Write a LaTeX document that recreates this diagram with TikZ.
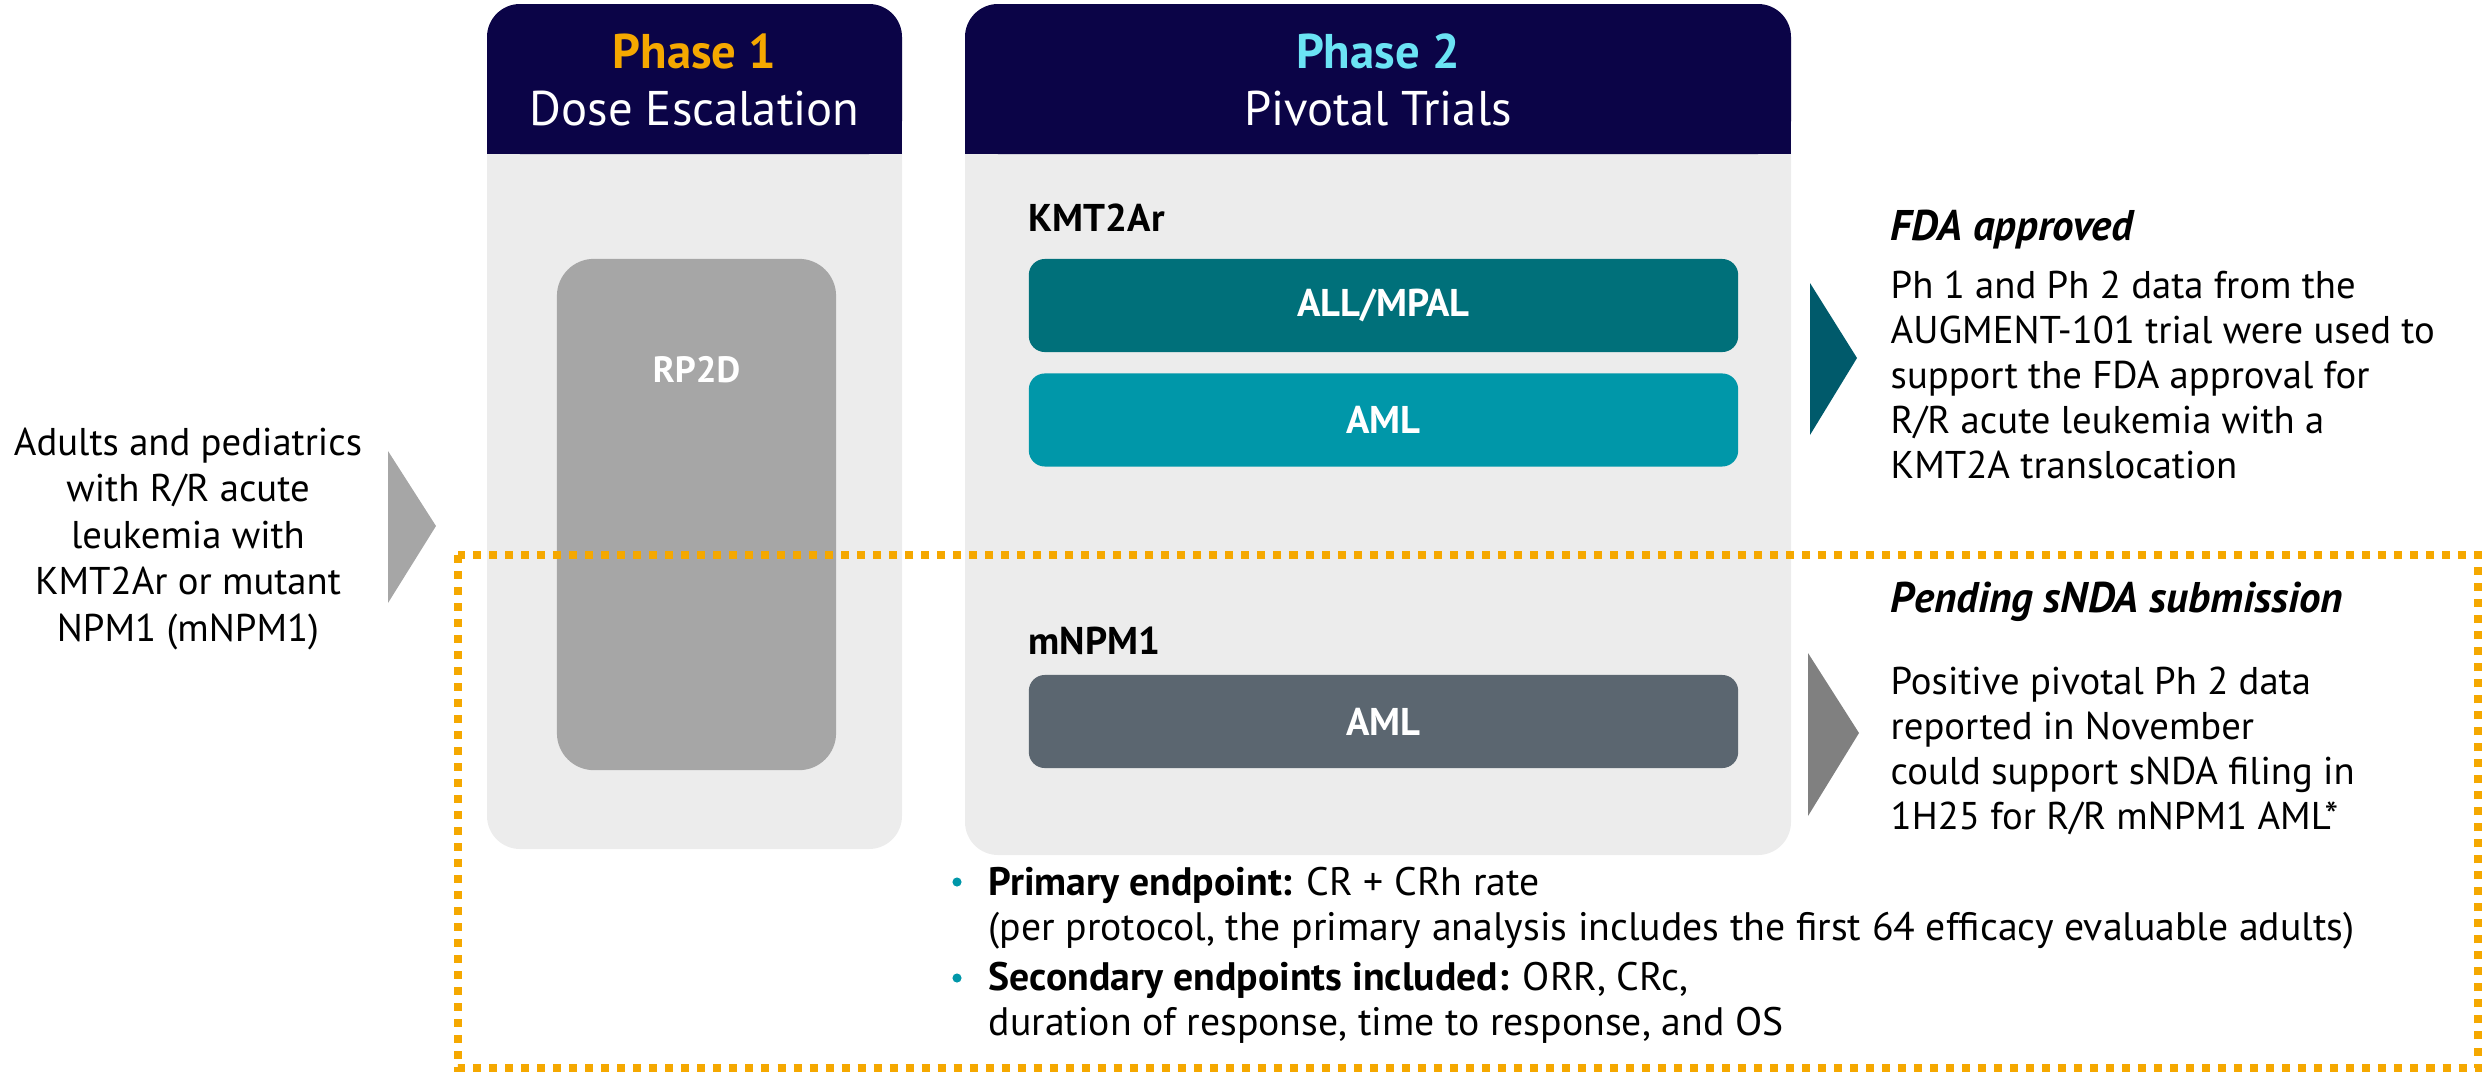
\documentclass[tikz,border=0pt]{standalone}
\usepackage{fontspec}
\setmainfont{PT Sans}
\usetikzlibrary{positioning}

\definecolor{hdrnavy}{HTML}{0B0447}
\definecolor{panelgrey}{HTML}{ECECEC}
\definecolor{rpgrey}{HTML}{A6A6A6}
\definecolor{phaseorange}{HTML}{F5A800}
\definecolor{phasecyan}{HTML}{6BE3F4}
\definecolor{allteal}{HTML}{00707A}
\definecolor{amlteal}{HTML}{0097A9}
\definecolor{amlslate}{HTML}{5B6670}
\definecolor{fdateal}{HTML}{005A6B}
\definecolor{pendgrey}{HTML}{808080}

\newcommand{\bodyfont}{\fontsize{11pt}{12.75pt}\selectfont}
\newcommand{\titlefont}{\fontsize{13.85pt}{16pt}\selectfont}
\newcommand{\boxfont}{\fontsize{11pt}{12pt}\selectfont\bfseries}
\newcommand{\statusfont}{\fontsize{12.2pt}{14pt}\selectfont\bfseries\itshape}

\tikzset{
	panel/.style = {fill=panelgrey, rounded corners=0.33cm},
	header/.style = {fill=hdrnavy, rounded corners=0.33cm},
	title/.style = {inner sep=0pt, font=\titlefont, anchor=base},
	trial/.style = {minimum width=7.09cm, minimum height=0.93cm, rounded corners=0.16cm,
		inner sep=0pt, text=white, font=\boxfont},
	grouplabel/.style = {inner sep=0pt, font=\boxfont, anchor=base west},
	bodytext/.style = {inner sep=0pt, font=\bodyfont},
	status/.style = {inner sep=0pt, font=\statusfont, anchor=base west},
	pending/.style = {draw=phaseorange, line width=0.08cm, dash pattern=on 0.08cm off 0.08cm}
}

\begin{document}
\begin{tikzpicture}[x=0.01cm, y=-0.01cm]
	\useasboundingbox (0,0) rectangle (2484,1072);
	% ====== Panels ========
	\fill[panel] (487,4) rectangle (902,849);
	\fill[header] (487,4) rectangle (902,154);
	\fill[hdrnavy] (487,100) rectangle (902,154);
	\fill[panel] (965,4) rectangle (1791,855);
	\fill[header] (965,4) rectangle (1791,154);
	\fill[hdrnavy] (965,100) rectangle (1791,154);

	\node[title, text=phaseorange] (ph1) at (694.5,68) {\bfseries Phase 1};
	\node[title, text=white] (ph1sub) at (694.5,125) {Dose Escalation};
	\node[title, text=phasecyan] (ph2) at (1378,68) {\bfseries Phase 2};
	\node[title, text=white] (ph2sub) at (1378,125) {Pivotal Trials};

	% ====== Phase 1 ========
	\node[fill=rpgrey, rounded corners=0.37cm, minimum width=2.79cm, minimum height=5.11cm] (rp2d) at (696.5,514.5) {};
	\node[inner sep=0pt, font=\fontsize{10.4pt}{12pt}\selectfont\bfseries, text=white, anchor=base] (rp2dtxt) at ([yshift=-1.24cm]rp2d.north) {RP2D};

	% ====== Phase 2 ========
	\node[trial, fill=allteal] (allmpal) at (1383.5,305.5) {ALL/MPAL};
	\node[trial, fill=amlteal, below=0.2cm of allmpal] (amlk) {AML};
	\node[trial, fill=amlslate] (amln) at (1383.5,721.5) {AML};
	\node[grouplabel] (kmt) at ([yshift=0.27cm]allmpal.north west) {KMT2Ar};
	\node[grouplabel] (npm) at ([yshift=0.2cm]amln.north west) {mNPM1};

	% ====== Population ========
	\node[bodytext, align=center, anchor=base, font=\fontsize{11pt}{13.2pt}\selectfont] (pop) at (188,641)
		{Adults and pediatrics\\with R/R acute\\leukemia with\\KMT2Ar or mutant\\NPM1 (mNPM1)};
	\fill[rpgrey] (388,451) -- (436,526) -- (388,603) -- cycle;

	% ====== Outcomes ========
	\fill[fdateal] (1810,283) -- (1857,358) -- (1810,435) -- cycle;
	\node[status] (fda) at (1890,240) {FDA approved};
	\node[bodytext, anchor=base west, align=left] (fdatxt) at (1890,478)
		{Ph 1 and Ph 2 data from the\\AUGMENT-101 trial were used to\\support the FDA approval for\\R/R acute leukemia with a\\KMT2A translocation};

	\fill[pendgrey] (1808,653) -- (1859,733) -- (1808,816) -- cycle;
	\node[status] (pend) at (1890,612) {Pending sNDA submission};
	\node[bodytext, anchor=base west, align=left] (pendtxt) at (1890,829)
		{Positive pivotal Ph 2 data\\reported in November\\could support sNDA filing in\\1H25 for R/R mNPM1 AML*};

	% ====== Endpoints ========
	\foreach \y in {882,978} {\fill[amlteal] (957,\y) circle (1.3pt);}
	\node[bodytext, anchor=base west, align=left, font=\fontsize{11.3pt}{12.6pt}\selectfont] (primary) at (988,940)
		{\textbf{Primary endpoint:} CR + CRh rate\\(per protocol, the primary analysis includes the first 64 efficacy evaluable adults)};
	\node[bodytext, anchor=base west, align=left, font=\fontsize{11.3pt}{12.8pt}\selectfont] (secondary) at (988,1035)
		{\textbf{Secondary endpoints included:} ORR, CRc,\\duration of response, time to response, and OS};

	\draw[pending] (458,555) rectangle (2478,1068);
\end{tikzpicture}
\end{document}
